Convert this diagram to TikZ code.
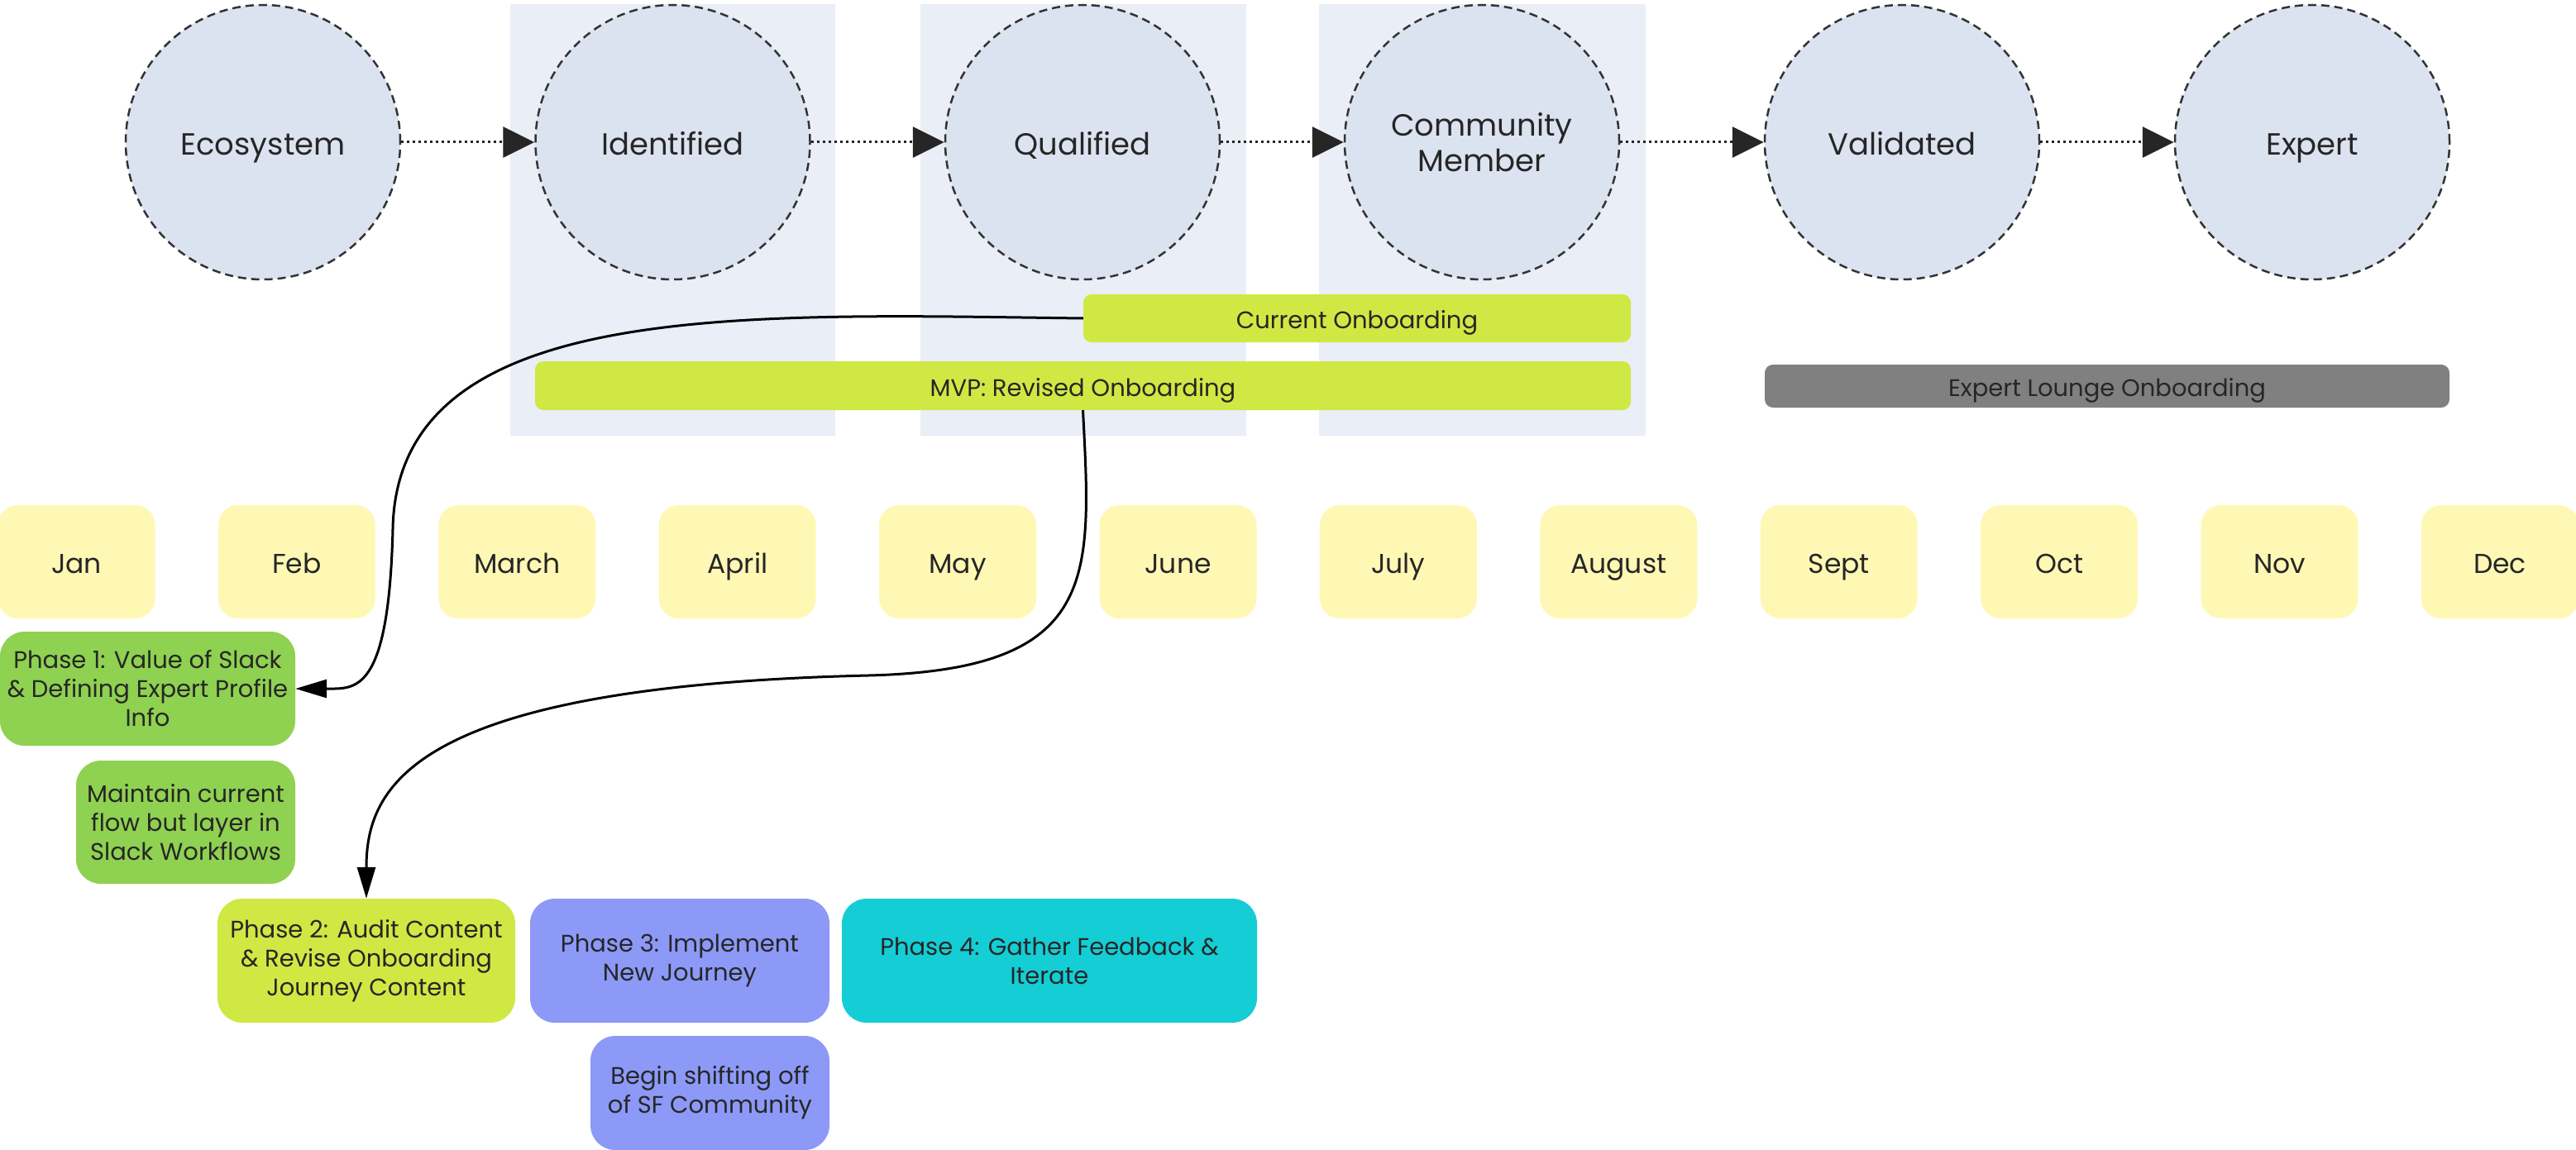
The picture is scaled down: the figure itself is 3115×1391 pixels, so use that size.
\documentclass[tikz,border=0pt]{standalone}
\usepackage{fontspec}
\setmainfont{Poppins}
\usetikzlibrary{arrows.meta}
\definecolor{circfill}{HTML}{DCE3F0}
\definecolor{bgcol}{HTML}{E9EEF7}
\definecolor{dashcol}{HTML}{333333}
\definecolor{lime}{HTML}{D0E843}
\definecolor{greybar}{HTML}{808080}
\definecolor{monthfill}{HTML}{FFF8B5}
\definecolor{greenbox}{HTML}{8FD150}
\definecolor{purplebox}{HTML}{8C99F7}
\definecolor{cyanbox}{HTML}{14CDD5}
\definecolor{txt}{HTML}{262626}
\begin{document}
\begin{tikzpicture}[x=1pt,y=-1pt,
  stage/.style={circle, minimum size=332pt, inner sep=0pt, fill=circfill, draw=dashcol,
    line width=2.5pt, dash pattern=on 10pt off 6pt, text=txt, align=center,
    text height=31pt, text depth=0pt, font=\fontsize{37}{43}\selectfont},
  month/.style={rounded corners=24pt, fill=monthfill, minimum width=190pt, minimum height=137pt,
    inner sep=0pt, text=txt, text height=27pt, text depth=0pt, font=\fontsize{33}{40}\selectfont},
  bar/.style={rounded corners=10pt, inner sep=0pt, text=txt, text height=25pt, text depth=0pt,
    font=\fontsize{29}{35}\selectfont},
  phase/.style={rounded corners=30pt, inner sep=0pt, text=txt, align=center,
    font=\fontsize{29}{35}\selectfont},
  flow/.style={draw=txt, line width=3pt, dash pattern=on 3pt off 4pt,
    -{Triangle[length=38pt,width=37pt]}},
  link/.style={draw=black, line width=3pt, -{Triangle[length=38pt,width=22pt]}}
]
\useasboundingbox (0,0) rectangle (3115,1391);
\fill[white] (0,0) rectangle (3115,1391);

% background columns
\fill[bgcol] (617,5) rectangle (1010,527);
\fill[bgcol] (1113,5) rectangle (1507,527);
\fill[bgcol] (1595,5) rectangle (1990,527);

% stages
\node[stage] (eco) at (318,172) {Ecosystem};
\node[stage] (ide) at (813.5,172) {Identified};
\node[stage] (qua) at (1309,172) {Qualified};
\node[stage, text height=, text depth=] (com) at (1792,172) {Community\\Member};
\node[stage] (val) at (2300,172) {Validated};
\node[stage] (exp) at (2796,172) {Expert};

\draw[flow] (eco) -- (ide);
\draw[flow] (ide) -- (qua);
\draw[flow] (qua) -- (com);
\draw[flow] (com) -- (val);
\draw[flow] (val) -- (exp);

% bars
\node[bar, fill=lime, minimum width=662pt, minimum height=58pt] (cur) at (1641,385) {Current Onboarding};
\node[bar, fill=lime, minimum width=1325pt, minimum height=59pt] (mvp) at (1309.5,466.5) {MVP: Revised Onboarding};
\node[bar, fill=greybar, minimum width=828pt, minimum height=52pt] (lounge) at (2548,467) {Expert Lounge Onboarding};

% months
\foreach \m [count=\i from 0] in {Jan,Feb,March,April,May,June,July,August,Sept,Oct,Nov,Dec}{
  \node[month] (m\i) at ({92.5+266.4*\i},679.5) {\m};
}

% phases
\node[phase, fill=greenbox, minimum width=357pt, minimum height=138pt] (ph1) at (178.5,833)
  {Phase 1: Value of Slack\\\& Defining Expert Profile\\Info};
\node[phase, fill=greenbox, minimum width=265pt, minimum height=149pt] (main) at (224.5,994.5)
  {Maintain current\\flow but layer in\\Slack Workflows};
\node[phase, fill=lime, minimum width=360pt, minimum height=150pt] (ph2) at (443,1162)
  {Phase 2: Audit Content\\\& Revise Onboarding\\Journey Content};
\node[phase, fill=purplebox, minimum width=362pt, minimum height=150pt] (ph3) at (822,1162)
  {Phase 3: Implement\\New Journey};
\node[phase, fill=cyanbox, minimum width=502pt, minimum height=150pt] (ph4) at (1269,1162)
  {Phase 4: Gather Feedback \&\\Iterate};
\node[phase, fill=purplebox, minimum width=289pt, minimum height=138pt] (shift) at (858.5,1322)
  {Begin shifting off\\of SF Community};

% connectors
\draw[link] (cur.west) .. controls (900,380) and (480,360) .. (475,640)
  .. controls (470,840) and (430,833) .. (ph1.east);
\draw[link] (mvp.south) .. controls (1320,700) and (1330,810) .. (1050,817)
  .. controls (500,830) and (443,950) .. (ph2.north);
\end{tikzpicture}
\end{document}
